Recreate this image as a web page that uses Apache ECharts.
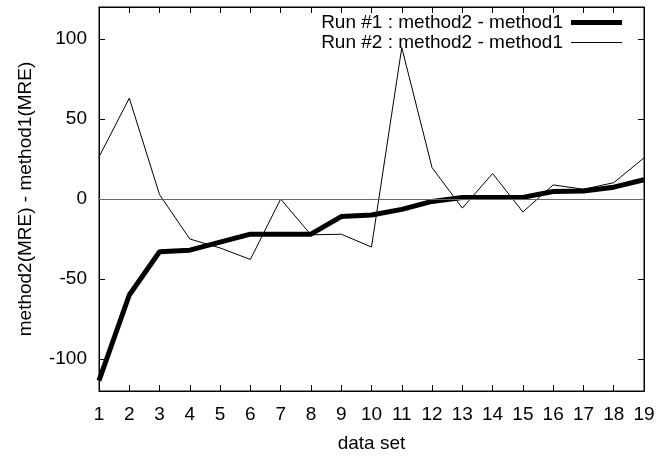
<!DOCTYPE html>
<html>
<head>
<meta charset="utf-8">
<script src="https://cdn.jsdelivr.net/npm/echarts@6/dist/echarts.min.js"></script>
<style>
html,body{margin:0;padding:0;background:#fff;}
#main{width:669px;height:458px;}
</style>
</head>
<body>
<div id="main"></div>
<script>
var categories = ['1','2','3','4','5','6','7','8','9','10','11','12','13','14','15','16','17','18','19'];
var run1 = [-113.5, -60, -33, -32, -27, -22, -22, -22, -11, -10, -6.5, -1.5, 1, 1, 1, 4.7, 5, 7.4, 12];
var run2 = [26.3, 63, 2.7, -25, -30.6, -37.8, 0, -22.4, -22, -30, 94.6, 19.6, -5.7, 15.9, -8.1, 8.8, 6.1, 10.2, 25.7];
var yTicks = [-100, -50, 0, 50, 100];
var seriesNames = ['Run #1 : method2 - method1', 'Run #2 : method2 - method1'];

var FONT = '"Liberation Sans", Arial, Helvetica, sans-serif';
var FS = 19;
var chart = echarts.init(document.getElementById('main'), null, {renderer: 'canvas'});

var lineAx = {show: true, onZero: false, lineStyle: {color: '#000', width: 1}};
var tickIn = {show: true, inside: true, length: 6, lineStyle: {color: '#000', width: 1}};

chart.setOption({
  animation: false,
  backgroundColor: '#fff',
  textStyle: {fontFamily: FONT},
  grid: {left: 99, right: 25, top: 7, bottom: 59, containLabel: false,
         show: true, borderColor: '#000', borderWidth: 1, backgroundColor: 'transparent'},
  legend: {
    right: 47, top: 13, padding: 0,
    orient: 'vertical',
    align: 'right',
    itemWidth: 51, itemHeight: 12, itemGap: 1,
    symbolKeepAspect: true,
    textStyle: {fontFamily: FONT, fontSize: FS, color: '#000', lineHeight: 18, padding: [0, 3, 0, 0]},
    data: [
      {name: seriesNames[0], icon: 'path://M0,0h50v5h-50z'},
      {name: seriesNames[1], icon: 'path://M0,0h50v1h-50z'}
    ]
  },
  xAxis: [{
    type: 'category', data: categories, boundaryGap: false, position: 'bottom',
    name: 'data set', nameLocation: 'middle', nameGap: 43,
    nameTextStyle: {fontFamily: FONT, fontSize: FS, color: '#000'},
    axisLine: lineAx, axisTick: Object.assign({alignWithLabel: true}, tickIn),
    axisLabel: {fontFamily: FONT, fontSize: FS, color: '#000', margin: 14, interval: 0},
    splitLine: {show: false}
  }, {
    type: 'category', data: categories, boundaryGap: false, position: 'top',
    axisLine: lineAx, axisTick: tickIn, axisLabel: {show: false}, splitLine: {show: false}
  }],
  yAxis: [{
    type: 'value', min: -120, max: 120, position: 'left',
    name: 'method2(MRE) - method1(MRE)', nameLocation: 'middle', nameGap: 64,
    nameTextStyle: {fontFamily: FONT, fontSize: FS, color: '#000'},
    axisLine: lineAx,
    axisTick: Object.assign({customValues: yTicks}, tickIn),
    axisLabel: {customValues: yTicks, fontFamily: FONT, fontSize: FS, color: '#000', margin: 12},
    splitLine: {show: false}
  }, {
    type: 'value', min: -120, max: 120, position: 'right',
    axisLine: lineAx,
    axisTick: Object.assign({customValues: yTicks}, tickIn),
    axisLabel: {show: false},
    splitLine: {show: false}
  }],
  series: [{
    name: seriesNames[1], type: 'line', data: run2, showSymbol: false, symbol: 'none',
    lineStyle: {color: '#000', width: 1}, itemStyle: {color: '#000'}, z: 3,
    markLine: {
      silent: true, symbol: ['none', 'none'], label: {show: false},
      lineStyle: {color: '#666', width: 1, type: 'solid'},
      data: [{yAxis: 0}]
    }
  }, {
    name: seriesNames[0], type: 'line', data: run1, showSymbol: false, symbol: 'none',
    lineStyle: {color: '#000', width: 5}, itemStyle: {color: '#000'}, z: 4
  }]
});
</script>
</body>
</html>
